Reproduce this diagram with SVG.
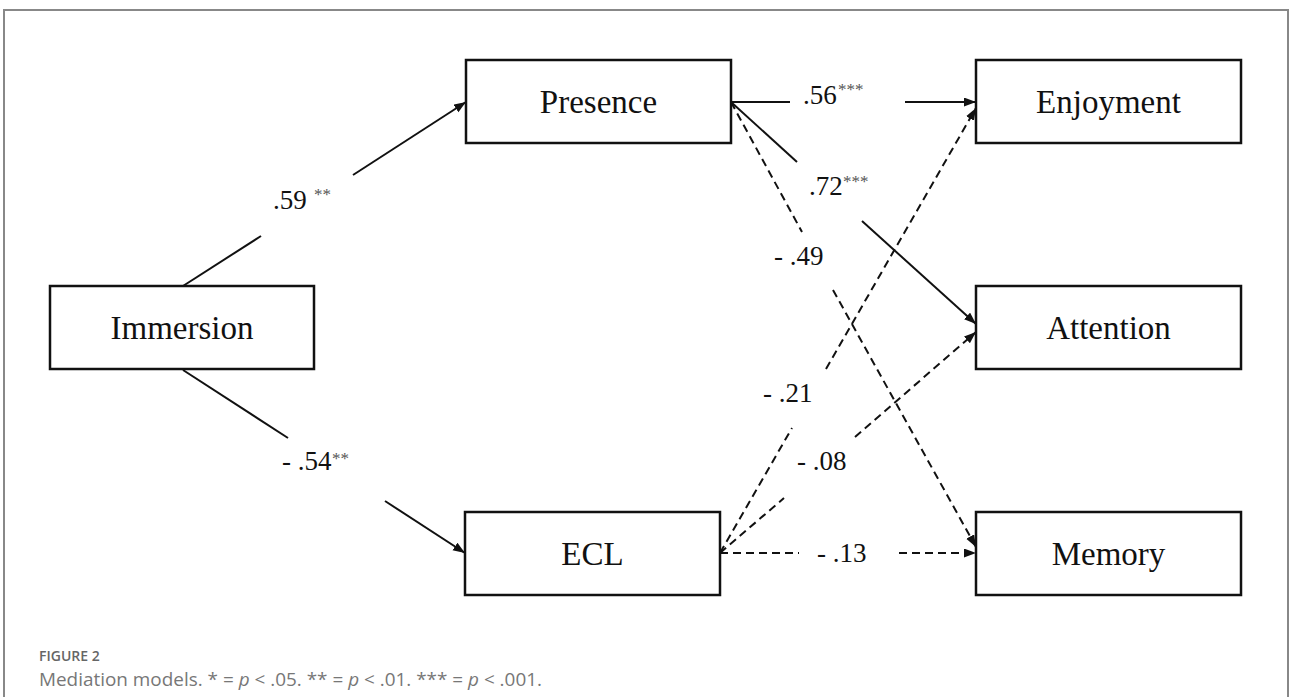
<svg xmlns="http://www.w3.org/2000/svg" width="1290" height="697" viewBox="0 0 1290 697">
<defs>
<style>
.box{fill:#fff;stroke:#111;stroke-width:2.5}
.nt{font-family:"Liberation Serif","Times New Roman",serif;font-size:33px;fill:#111;text-anchor:middle}
.lb{font-family:"Liberation Serif","Times New Roman",serif;font-size:27px;fill:#111}
.st{font-family:"Liberation Serif","Times New Roman",serif;font-size:17px;fill:#555}
.ln{stroke:#111;stroke-width:2;fill:none}
.ds{stroke:#111;stroke-width:2;fill:none;stroke-dasharray:8 5}
.cap1{font-family:"Open Sans","Liberation Sans",sans-serif;font-size:14px;font-weight:600;fill:#666}
.cap2{font-family:"Open Sans","Liberation Sans",sans-serif;font-size:19px;fill:#777}
</style>
<marker id="ah" markerUnits="userSpaceOnUse" markerWidth="13" markerHeight="10" refX="12" refY="4.5" orient="auto">
<path d="M0,0 L12,4.5 L0,9 z" fill="#111"/>
</marker>
</defs>
<rect width="1290" height="697" fill="#fff"/>
<path d="M4,700 V10 H1288 V700" fill="none" stroke="#888" stroke-width="2"/>

<g id="connectors">
<line class="ln" x1="183" y1="286" x2="261" y2="236"/>
<line class="ln" x1="353" y1="175" x2="466" y2="102" marker-end="url(#ah)"/>
<line class="ln" x1="183" y1="370" x2="288" y2="438"/>
<line class="ln" x1="385" y1="501" x2="465" y2="553" marker-end="url(#ah)"/>
<line class="ln" x1="731" y1="102" x2="790" y2="102"/>
<line class="ln" x1="905" y1="102" x2="976" y2="102" marker-end="url(#ah)"/>
<line class="ln" x1="731" y1="102" x2="797" y2="162"/>
<line class="ln" x1="862" y1="221" x2="976" y2="324" marker-end="url(#ah)"/>
<line class="ds" x1="731" y1="102" x2="802" y2="232"/>
<line class="ds" x1="833" y1="290" x2="976" y2="547" marker-end="url(#ah)"/>
<line class="ds" x1="720" y1="553" x2="792" y2="428"/>
<line class="ds" x1="826" y1="369" x2="976" y2="108" marker-end="url(#ah)"/>
<line class="ds" x1="720" y1="553" x2="784" y2="498"/>
<line class="ds" x1="855" y1="437" x2="976" y2="332" marker-end="url(#ah)"/>
<line class="ds" x1="720" y1="553" x2="799" y2="553"/>
<line class="ds" x1="899" y1="553" x2="976" y2="553" marker-end="url(#ah)"/>
</g>

<g id="labels">
<text class="lb" x="273" y="209">.59</text><text class="st" x="314" y="200">**</text>
<text class="lb" x="282" y="470">- .54</text><text class="st" x="332" y="464">**</text>
<text class="lb" x="803" y="104">.56</text><text class="st" x="838" y="95">***</text>
<text class="lb" x="809" y="195">.72</text><text class="st" x="843" y="187">***</text>
<text class="lb" x="774" y="265">- .49</text>
<text class="lb" x="763" y="402">- .21</text>
<text class="lb" x="797" y="470">- .08</text>
<text class="lb" x="817" y="562">- .13</text>
</g>

<g id="immersion"><rect class="box" x="50" y="286" width="264" height="83"/><text class="nt" x="182" y="339">Immersion</text></g>
<g id="presence"><rect class="box" x="466" y="60" width="265" height="83"/><text class="nt" x="598.5" y="113">Presence</text></g>
<g id="ecl"><rect class="box" x="465" y="512" width="255" height="83"/><text class="nt" x="592.5" y="565">ECL</text></g>
<g id="enjoyment"><rect class="box" x="976" y="60" width="265" height="83"/><text class="nt" x="1108.5" y="113">Enjoyment</text></g>
<g id="attention"><rect class="box" x="976" y="286" width="265" height="83"/><text class="nt" x="1108.5" y="339">Attention</text></g>
<g id="memory"><rect class="box" x="976" y="512" width="265" height="83"/><text class="nt" x="1108.5" y="565">Memory</text></g>

<g id="caption">
<text class="cap1" x="39" y="661">FIGURE 2</text>
<text class="cap2" x="39" y="686" textLength="503" lengthAdjust="spacingAndGlyphs">Mediation models. * = <tspan font-style="italic">p</tspan> &lt; .05. ** = <tspan font-style="italic">p</tspan> &lt; .01. *** = <tspan font-style="italic">p</tspan> &lt; .001.</text>
</g>
</svg>
